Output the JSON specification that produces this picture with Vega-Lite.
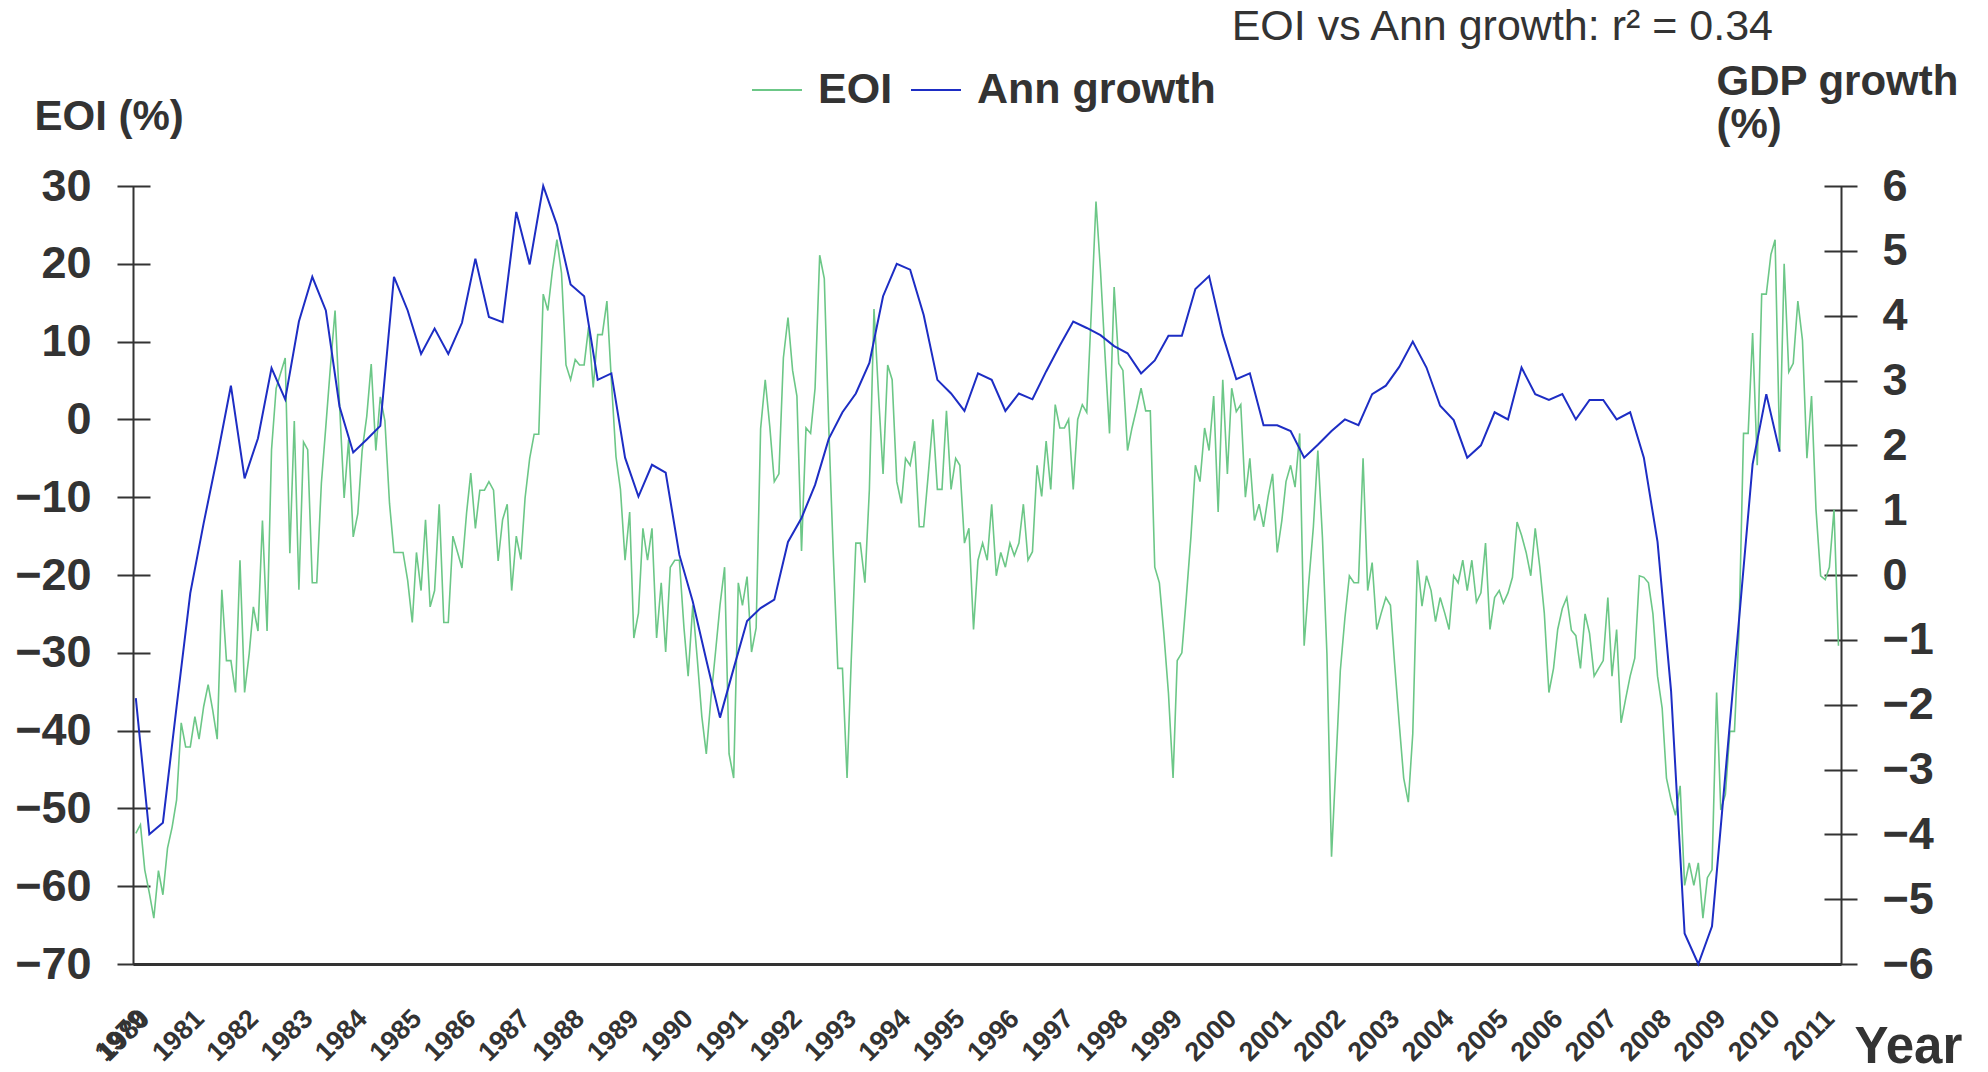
{
  "$schema": "https://vega.github.io/schema/vega-lite/v6.json",
  "width": 1708,
  "height": 778,
  "autosize": {"type": "none"},
  "padding": {"left": 133, "top": 186, "right": 147, "bottom": 108},
  "background": "white",
  "title": {"text": "EOI vs Ann growth: r² = 0.34", "anchor": "end", "frame": "group", "dx": -68, "offset": -23, "fontSize": 43, "font": "Liberation Sans", "fontWeight": "normal", "color": "#333333", "baseline": "alphabetic"},
  "config": {"view": {"stroke": null}, "font": "Liberation Sans"},
  "datasets": {
    "eoi": [
      {"date":"1980-01","eoi":-53.2},{"date":"1980-02","eoi":-52.1},{"date":"1980-03","eoi":-57.9},{"date":"1980-04","eoi":-60.9},{"date":"1980-05","eoi":-64.1},{"date":"1980-06","eoi":-58.0},{"date":"1980-07","eoi":-61.1},{"date":"1980-08","eoi":-55.1},{"date":"1980-09","eoi":-52.4},{"date":"1980-10","eoi":-48.9},{"date":"1980-11","eoi":-39.0},{"date":"1980-12","eoi":-42.1},
      {"date":"1981-01","eoi":-42.1},{"date":"1981-02","eoi":-38.2},{"date":"1981-03","eoi":-41.1},{"date":"1981-04","eoi":-36.9},{"date":"1981-05","eoi":-34.1},{"date":"1981-06","eoi":-37.4},{"date":"1981-07","eoi":-41.1},{"date":"1981-08","eoi":-21.9},{"date":"1981-09","eoi":-31.0},{"date":"1981-10","eoi":-31.0},{"date":"1981-11","eoi":-35.1},{"date":"1981-12","eoi":-18.1},
      {"date":"1982-01","eoi":-35.1},{"date":"1982-02","eoi":-30.1},{"date":"1982-03","eoi":-24.1},{"date":"1982-04","eoi":-27.2},{"date":"1982-05","eoi":-13.0},{"date":"1982-06","eoi":-27.2},{"date":"1982-07","eoi":-3.9},{"date":"1982-08","eoi":4.0},{"date":"1982-09","eoi":6.0},{"date":"1982-10","eoi":7.9},{"date":"1982-11","eoi":-17.2},{"date":"1982-12","eoi":-0.2},
      {"date":"1983-01","eoi":-21.9},{"date":"1983-02","eoi":-2.9},{"date":"1983-03","eoi":-3.9},{"date":"1983-04","eoi":-21.0},{"date":"1983-05","eoi":-21.0},{"date":"1983-06","eoi":-8.2},{"date":"1983-07","eoi":-0.9},{"date":"1983-08","eoi":6.8},{"date":"1983-09","eoi":14.0},{"date":"1983-10","eoi":2.0},{"date":"1983-11","eoi":-10.1},{"date":"1983-12","eoi":-2.6},
      {"date":"1984-01","eoi":-15.1},{"date":"1984-02","eoi":-12.1},{"date":"1984-03","eoi":-4.0},{"date":"1984-04","eoi":0.4},{"date":"1984-05","eoi":7.1},{"date":"1984-06","eoi":-4.0},{"date":"1984-07","eoi":2.9},{"date":"1984-08","eoi":-0.2},{"date":"1984-09","eoi":-10.8},{"date":"1984-10","eoi":-17.1},{"date":"1984-11","eoi":-17.1},{"date":"1984-12","eoi":-17.1},
      {"date":"1985-01","eoi":-20.7},{"date":"1985-02","eoi":-26.1},{"date":"1985-03","eoi":-17.1},{"date":"1985-04","eoi":-22.0},{"date":"1985-05","eoi":-12.9},{"date":"1985-06","eoi":-24.1},{"date":"1985-07","eoi":-22.0},{"date":"1985-08","eoi":-10.9},{"date":"1985-09","eoi":-26.1},{"date":"1985-10","eoi":-26.1},{"date":"1985-11","eoi":-15.0},{"date":"1985-12","eoi":-17.0},
      {"date":"1986-01","eoi":-19.1},{"date":"1986-02","eoi":-12.0},{"date":"1986-03","eoi":-6.9},{"date":"1986-04","eoi":-14.0},{"date":"1986-05","eoi":-9.1},{"date":"1986-06","eoi":-9.1},{"date":"1986-07","eoi":-8.0},{"date":"1986-08","eoi":-9.1},{"date":"1986-09","eoi":-18.2},{"date":"1986-10","eoi":-12.9},{"date":"1986-11","eoi":-10.9},{"date":"1986-12","eoi":-22.0},
      {"date":"1987-01","eoi":-15.0},{"date":"1987-02","eoi":-18.0},{"date":"1987-03","eoi":-10.1},{"date":"1987-04","eoi":-5.0},{"date":"1987-05","eoi":-1.9},{"date":"1987-06","eoi":-1.9},{"date":"1987-07","eoi":16.1},{"date":"1987-08","eoi":14.0},{"date":"1987-09","eoi":19.2},{"date":"1987-10","eoi":23.1},{"date":"1987-11","eoi":18.8},{"date":"1987-12","eoi":7.0},
      {"date":"1988-01","eoi":5.1},{"date":"1988-02","eoi":7.7},{"date":"1988-03","eoi":7.0},{"date":"1988-04","eoi":7.0},{"date":"1988-05","eoi":11.9},{"date":"1988-06","eoi":4.1},{"date":"1988-07","eoi":10.9},{"date":"1988-08","eoi":10.9},{"date":"1988-09","eoi":15.2},{"date":"1988-10","eoi":5.0},{"date":"1988-11","eoi":-4.8},{"date":"1988-12","eoi":-9.0},
      {"date":"1989-01","eoi":-18.1},{"date":"1989-02","eoi":-11.9},{"date":"1989-03","eoi":-28.1},{"date":"1989-04","eoi":-24.9},{"date":"1989-05","eoi":-14.0},{"date":"1989-06","eoi":-18.1},{"date":"1989-07","eoi":-14.0},{"date":"1989-08","eoi":-28.1},{"date":"1989-09","eoi":-21.0},{"date":"1989-10","eoi":-29.9},{"date":"1989-11","eoi":-19.0},{"date":"1989-12","eoi":-18.1},
      {"date":"1990-01","eoi":-18.1},{"date":"1990-02","eoi":-26.8},{"date":"1990-03","eoi":-33.0},{"date":"1990-04","eoi":-23.9},{"date":"1990-05","eoi":-30.7},{"date":"1990-06","eoi":-38.2},{"date":"1990-07","eoi":-43.0},{"date":"1990-08","eoi":-35.9},{"date":"1990-09","eoi":-29.9},{"date":"1990-10","eoi":-23.9},{"date":"1990-11","eoi":-19.0},{"date":"1990-12","eoi":-43.0},
      {"date":"1991-01","eoi":-46.1},{"date":"1991-02","eoi":-21.0},{"date":"1991-03","eoi":-23.9},{"date":"1991-04","eoi":-20.2},{"date":"1991-05","eoi":-29.9},{"date":"1991-06","eoi":-26.8},{"date":"1991-07","eoi":-1.2},{"date":"1991-08","eoi":5.1},{"date":"1991-09","eoi":-1.0},{"date":"1991-10","eoi":-8.0},{"date":"1991-11","eoi":-7.0},{"date":"1991-12","eoi":7.9},
      {"date":"1992-01","eoi":13.1},{"date":"1992-02","eoi":6.3},{"date":"1992-03","eoi":3.0},{"date":"1992-04","eoi":-16.9},{"date":"1992-05","eoi":-1.1},{"date":"1992-06","eoi":-1.8},{"date":"1992-07","eoi":4.0},{"date":"1992-08","eoi":21.1},{"date":"1992-09","eoi":18.1},{"date":"1992-10","eoi":-1.0},{"date":"1992-11","eoi":-17.7},{"date":"1992-12","eoi":-32.0},
      {"date":"1993-01","eoi":-32.0},{"date":"1993-02","eoi":-46.1},{"date":"1993-03","eoi":-31.0},{"date":"1993-04","eoi":-15.9},{"date":"1993-05","eoi":-15.9},{"date":"1993-06","eoi":-21.0},{"date":"1993-07","eoi":-9.0},{"date":"1993-08","eoi":14.2},{"date":"1993-09","eoi":3.0},{"date":"1993-10","eoi":-7.0},{"date":"1993-11","eoi":7.0},{"date":"1993-12","eoi":5.1},
      {"date":"1994-01","eoi":-8.0},{"date":"1994-02","eoi":-10.8},{"date":"1994-03","eoi":-5.0},{"date":"1994-04","eoi":-5.9},{"date":"1994-05","eoi":-2.8},{"date":"1994-06","eoi":-13.8},{"date":"1994-07","eoi":-13.8},{"date":"1994-08","eoi":-7.0},{"date":"1994-09","eoi":0.0},{"date":"1994-10","eoi":-9.0},{"date":"1994-11","eoi":-9.0},{"date":"1994-12","eoi":1.1},
      {"date":"1995-01","eoi":-9.0},{"date":"1995-02","eoi":-5.0},{"date":"1995-03","eoi":-5.9},{"date":"1995-04","eoi":-15.9},{"date":"1995-05","eoi":-14.0},{"date":"1995-06","eoi":-27.0},{"date":"1995-07","eoi":-18.1},{"date":"1995-08","eoi":-15.9},{"date":"1995-09","eoi":-18.1},{"date":"1995-10","eoi":-10.9},{"date":"1995-11","eoi":-20.1},{"date":"1995-12","eoi":-17.1},
      {"date":"1996-01","eoi":-19.0},{"date":"1996-02","eoi":-15.9},{"date":"1996-03","eoi":-17.5},{"date":"1996-04","eoi":-15.9},{"date":"1996-05","eoi":-10.9},{"date":"1996-06","eoi":-18.1},{"date":"1996-07","eoi":-17.0},{"date":"1996-08","eoi":-5.9},{"date":"1996-09","eoi":-9.9},{"date":"1996-10","eoi":-2.8},{"date":"1996-11","eoi":-9.0},{"date":"1996-12","eoi":1.9},
      {"date":"1997-01","eoi":-1.1},{"date":"1997-02","eoi":-1.1},{"date":"1997-03","eoi":0.0},{"date":"1997-04","eoi":-9.0},{"date":"1997-05","eoi":0.0},{"date":"1997-06","eoi":1.9},{"date":"1997-07","eoi":0.9},{"date":"1997-08","eoi":14.0},{"date":"1997-09","eoi":28.0},{"date":"1997-10","eoi":19.2},{"date":"1997-11","eoi":8.2},{"date":"1997-12","eoi":-1.8},
      {"date":"1998-01","eoi":17.0},{"date":"1998-02","eoi":7.2},{"date":"1998-03","eoi":6.3},{"date":"1998-04","eoi":-4.0},{"date":"1998-05","eoi":-1.1},{"date":"1998-06","eoi":1.4},{"date":"1998-07","eoi":4.0},{"date":"1998-08","eoi":1.1},{"date":"1998-09","eoi":1.1},{"date":"1998-10","eoi":-19.0},{"date":"1998-11","eoi":-21.0},{"date":"1998-12","eoi":-27.5},
      {"date":"1999-01","eoi":-35.2},{"date":"1999-02","eoi":-46.1},{"date":"1999-03","eoi":-31.0},{"date":"1999-04","eoi":-30.0},{"date":"1999-05","eoi":-22.9},{"date":"1999-06","eoi":-15.1},{"date":"1999-07","eoi":-5.9},{"date":"1999-08","eoi":-8.0},{"date":"1999-09","eoi":-1.1},{"date":"1999-10","eoi":-4.0},{"date":"1999-11","eoi":3.0},{"date":"1999-12","eoi":-11.9},
      {"date":"2000-01","eoi":5.1},{"date":"2000-02","eoi":-7.0},{"date":"2000-03","eoi":4.0},{"date":"2000-04","eoi":1.0},{"date":"2000-05","eoi":1.9},{"date":"2000-06","eoi":-10.0},{"date":"2000-07","eoi":-5.0},{"date":"2000-08","eoi":-13.0},{"date":"2000-09","eoi":-10.9},{"date":"2000-10","eoi":-13.8},{"date":"2000-11","eoi":-9.9},{"date":"2000-12","eoi":-7.0},
      {"date":"2001-01","eoi":-17.1},{"date":"2001-02","eoi":-13.0},{"date":"2001-03","eoi":-8.0},{"date":"2001-04","eoi":-5.9},{"date":"2001-05","eoi":-8.7},{"date":"2001-06","eoi":-1.8},{"date":"2001-07","eoi":-29.1},{"date":"2001-08","eoi":-21.0},{"date":"2001-09","eoi":-13.8},{"date":"2001-10","eoi":-4.0},{"date":"2001-11","eoi":-15.2},{"date":"2001-12","eoi":-30.1},
      {"date":"2002-01","eoi":-56.2},{"date":"2002-02","eoi":-43.7},{"date":"2002-03","eoi":-32.3},{"date":"2002-04","eoi":-25.5},{"date":"2002-05","eoi":-20.1},{"date":"2002-06","eoi":-21.0},{"date":"2002-07","eoi":-21.0},{"date":"2002-08","eoi":-5.0},{"date":"2002-09","eoi":-22.0},{"date":"2002-10","eoi":-18.4},{"date":"2002-11","eoi":-27.0},{"date":"2002-12","eoi":-24.9},
      {"date":"2003-01","eoi":-22.9},{"date":"2003-02","eoi":-23.9},{"date":"2003-03","eoi":-31.4},{"date":"2003-04","eoi":-39.1},{"date":"2003-05","eoi":-46.1},{"date":"2003-06","eoi":-49.2},{"date":"2003-07","eoi":-40.4},{"date":"2003-08","eoi":-18.1},{"date":"2003-09","eoi":-24.0},{"date":"2003-10","eoi":-20.1},{"date":"2003-11","eoi":-22.0},{"date":"2003-12","eoi":-26.0},
      {"date":"2004-01","eoi":-22.9},{"date":"2004-02","eoi":-24.9},{"date":"2004-03","eoi":-27.0},{"date":"2004-04","eoi":-20.1},{"date":"2004-05","eoi":-21.0},{"date":"2004-06","eoi":-18.1},{"date":"2004-07","eoi":-22.0},{"date":"2004-08","eoi":-18.1},{"date":"2004-09","eoi":-23.5},{"date":"2004-10","eoi":-22.3},{"date":"2004-11","eoi":-15.9},{"date":"2004-12","eoi":-27.0},
      {"date":"2005-01","eoi":-22.9},{"date":"2005-02","eoi":-22.0},{"date":"2005-03","eoi":-23.6},{"date":"2005-04","eoi":-22.3},{"date":"2005-05","eoi":-20.3},{"date":"2005-06","eoi":-13.2},{"date":"2005-07","eoi":-14.9},{"date":"2005-08","eoi":-17.1},{"date":"2005-09","eoi":-20.1},{"date":"2005-10","eoi":-14.0},{"date":"2005-11","eoi":-19.0},{"date":"2005-12","eoi":-24.9},
      {"date":"2006-01","eoi":-35.1},{"date":"2006-02","eoi":-32.0},{"date":"2006-03","eoi":-27.0},{"date":"2006-04","eoi":-24.3},{"date":"2006-05","eoi":-22.9},{"date":"2006-06","eoi":-27.1},{"date":"2006-07","eoi":-27.8},{"date":"2006-08","eoi":-32.0},{"date":"2006-09","eoi":-25.0},{"date":"2006-10","eoi":-27.5},{"date":"2006-11","eoi":-33.0},{"date":"2006-12","eoi":-32.0},
      {"date":"2007-01","eoi":-31.0},{"date":"2007-02","eoi":-22.9},{"date":"2007-03","eoi":-33.0},{"date":"2007-04","eoi":-27.0},{"date":"2007-05","eoi":-39.0},{"date":"2007-06","eoi":-35.9},{"date":"2007-07","eoi":-33.0},{"date":"2007-08","eoi":-30.7},{"date":"2007-09","eoi":-20.1},{"date":"2007-10","eoi":-20.3},{"date":"2007-11","eoi":-21.0},{"date":"2007-12","eoi":-25.0},
      {"date":"2008-01","eoi":-33.0},{"date":"2008-02","eoi":-37.1},{"date":"2008-03","eoi":-46.1},{"date":"2008-04","eoi":-48.9},{"date":"2008-05","eoi":-50.9},{"date":"2008-06","eoi":-47.1},{"date":"2008-07","eoi":-59.9},{"date":"2008-08","eoi":-57.0},{"date":"2008-09","eoi":-59.9},{"date":"2008-10","eoi":-57.0},{"date":"2008-11","eoi":-64.1},{"date":"2008-12","eoi":-58.9},
      {"date":"2009-01","eoi":-57.9},{"date":"2009-02","eoi":-35.1},{"date":"2009-03","eoi":-50.2},{"date":"2009-04","eoi":-48.2},{"date":"2009-05","eoi":-40.1},{"date":"2009-06","eoi":-40.1},{"date":"2009-07","eoi":-27.5},{"date":"2009-08","eoi":-1.8},{"date":"2009-09","eoi":-1.8},{"date":"2009-10","eoi":11.1},{"date":"2009-11","eoi":-5.9},{"date":"2009-12","eoi":16.1},
      {"date":"2010-01","eoi":16.1},{"date":"2010-02","eoi":21.2},{"date":"2010-03","eoi":23.1},{"date":"2010-04","eoi":-4.1},{"date":"2010-05","eoi":20.0},{"date":"2010-06","eoi":6.1},{"date":"2010-07","eoi":7.2},{"date":"2010-08","eoi":15.2},{"date":"2010-09","eoi":10.2},{"date":"2010-10","eoi":-5.0},{"date":"2010-11","eoi":3.0},{"date":"2010-12","eoi":-11.6},
      {"date":"2011-01","eoi":-20.1},{"date":"2011-02","eoi":-20.6},{"date":"2011-03","eoi":-19.0},{"date":"2011-04","eoi":-11.6},{"date":"2011-05","eoi":-29.1}
    ],
    "gdp": [
      {"date":"1980-01","growth":-1.90},{"date":"1980-04","growth":-4.00},{"date":"1980-07","growth":-3.82},{"date":"1980-10","growth":-2.03},
      {"date":"1981-01","growth":-0.28},{"date":"1981-04","growth":0.80},{"date":"1981-07","growth":1.82},{"date":"1981-10","growth":2.92},
      {"date":"1982-01","growth":1.49},{"date":"1982-04","growth":2.11},{"date":"1982-07","growth":3.19},{"date":"1982-10","growth":2.71},
      {"date":"1983-01","growth":3.91},{"date":"1983-04","growth":4.60},{"date":"1983-07","growth":4.08},{"date":"1983-10","growth":2.60},
      {"date":"1984-01","growth":1.89},{"date":"1984-04","growth":2.09},{"date":"1984-07","growth":2.30},{"date":"1984-10","growth":4.60},
      {"date":"1985-01","growth":4.08},{"date":"1985-04","growth":3.41},{"date":"1985-07","growth":3.80},{"date":"1985-10","growth":3.41},
      {"date":"1986-01","growth":3.89},{"date":"1986-04","growth":4.88},{"date":"1986-07","growth":3.98},{"date":"1986-10","growth":3.90},
      {"date":"1987-01","growth":5.60},{"date":"1987-04","growth":4.79},{"date":"1987-07","growth":6.00},{"date":"1987-10","growth":5.40},
      {"date":"1988-01","growth":4.48},{"date":"1988-04","growth":4.30},{"date":"1988-07","growth":3.01},{"date":"1988-10","growth":3.11},
      {"date":"1989-01","growth":1.81},{"date":"1989-04","growth":1.21},{"date":"1989-07","growth":1.70},{"date":"1989-10","growth":1.58},
      {"date":"1990-01","growth":0.31},{"date":"1990-04","growth":-0.41},{"date":"1990-07","growth":-1.31},{"date":"1990-10","growth":-2.20},
      {"date":"1991-01","growth":-1.44},{"date":"1991-04","growth":-0.71},{"date":"1991-07","growth":-0.51},{"date":"1991-10","growth":-0.38},
      {"date":"1992-01","growth":0.51},{"date":"1992-04","growth":0.88},{"date":"1992-07","growth":1.39},{"date":"1992-10","growth":2.10},
      {"date":"1993-01","growth":2.51},{"date":"1993-04","growth":2.80},{"date":"1993-07","growth":3.27},{"date":"1993-10","growth":4.30},
      {"date":"1994-01","growth":4.80},{"date":"1994-04","growth":4.71},{"date":"1994-07","growth":4.01},{"date":"1994-10","growth":3.01},
      {"date":"1995-01","growth":2.80},{"date":"1995-04","growth":2.53},{"date":"1995-07","growth":3.11},{"date":"1995-10","growth":3.01},
      {"date":"1996-01","growth":2.53},{"date":"1996-04","growth":2.80},{"date":"1996-07","growth":2.71},{"date":"1996-10","growth":3.14},
      {"date":"1997-01","growth":3.54},{"date":"1997-04","growth":3.91},{"date":"1997-07","growth":3.81},{"date":"1997-10","growth":3.70},
      {"date":"1998-01","growth":3.53},{"date":"1998-04","growth":3.42},{"date":"1998-07","growth":3.11},{"date":"1998-10","growth":3.31},
      {"date":"1999-01","growth":3.69},{"date":"1999-04","growth":3.69},{"date":"1999-07","growth":4.41},{"date":"1999-10","growth":4.61},
      {"date":"2000-01","growth":3.70},{"date":"2000-04","growth":3.02},{"date":"2000-07","growth":3.11},{"date":"2000-10","growth":2.31},
      {"date":"2001-01","growth":2.31},{"date":"2001-04","growth":2.22},{"date":"2001-07","growth":1.81},{"date":"2001-10","growth":2.01},
      {"date":"2002-01","growth":2.22},{"date":"2002-04","growth":2.40},{"date":"2002-07","growth":2.31},{"date":"2002-10","growth":2.79},
      {"date":"2003-01","growth":2.92},{"date":"2003-04","growth":3.21},{"date":"2003-07","growth":3.60},{"date":"2003-10","growth":3.20},
      {"date":"2004-01","growth":2.61},{"date":"2004-04","growth":2.39},{"date":"2004-07","growth":1.81},{"date":"2004-10","growth":2.00},
      {"date":"2005-01","growth":2.51},{"date":"2005-04","growth":2.40},{"date":"2005-07","growth":3.20},{"date":"2005-10","growth":2.79},
      {"date":"2006-01","growth":2.70},{"date":"2006-04","growth":2.79},{"date":"2006-07","growth":2.40},{"date":"2006-10","growth":2.70},
      {"date":"2007-01","growth":2.70},{"date":"2007-04","growth":2.40},{"date":"2007-07","growth":2.51},{"date":"2007-10","growth":1.81},
      {"date":"2008-01","growth":0.51},{"date":"2008-04","growth":-1.79},{"date":"2008-07","growth":-5.53},{"date":"2008-10","growth":-6.00},
      {"date":"2009-01","growth":-5.42},{"date":"2009-04","growth":-3.07},{"date":"2009-07","growth":-0.71},{"date":"2009-10","growth":1.71},
      {"date":"2010-01","growth":2.79},{"date":"2010-04","growth":1.90}
    ]
  },
  "layer": [
    {
      "data": {"name": "eoi"},
      "mark": {"type": "line", "strokeWidth": 1.6},
      "encoding": {
        "x": {
          "field": "date", "type": "temporal",
          "scale": {"type": "utc", "domain": [{"year": 1979, "month": 12, "date": 13, "utc": true}, {"year": 2011, "month": 5, "date": 18, "utc": true}]},
          "axis": {
            "orient": "bottom",
            "values": [
              {"year": 1980, "utc": true},{"year": 1981, "utc": true},{"year": 1982, "utc": true},{"year": 1983, "utc": true},{"year": 1984, "utc": true},{"year": 1985, "utc": true},{"year": 1986, "utc": true},{"year": 1987, "utc": true},{"year": 1988, "utc": true},{"year": 1989, "utc": true},
              {"year": 1990, "utc": true},{"year": 1991, "utc": true},{"year": 1992, "utc": true},{"year": 1993, "utc": true},{"year": 1994, "utc": true},{"year": 1995, "utc": true},{"year": 1996, "utc": true},{"year": 1997, "utc": true},{"year": 1998, "utc": true},{"year": 1999, "utc": true},
              {"year": 2000, "utc": true},{"year": 2001, "utc": true},{"year": 2002, "utc": true},{"year": 2003, "utc": true},{"year": 2004, "utc": true},{"year": 2005, "utc": true},{"year": 2006, "utc": true},{"year": 2007, "utc": true},{"year": 2008, "utc": true},{"year": 2009, "utc": true},
              {"year": 2010, "utc": true},{"year": 2011, "utc": true}
            ],
            "format": "%Y",
            "labelAngle": -45,
            "labelFontSize": 27,
            "labelFontWeight": "bold",
            "labelColor": "#333333",
            "labelPadding": 41,
            "labelDx": -11,
            "labelDy": -11,
            "labelOverlap": false,
            "labelFlush": false,
            "labelBound": false,
            "ticks": false,
            "tickSize": 0,
            "grid": false,
            "domain": true,
            "domainColor": "#333333",
            "domainWidth": 3,
            "title": "Year",
            "titleFontSize": 51,
            "titleFontWeight": "bold",
            "titleColor": "#333333",
            "titleAlign": "left",
            "titleBaseline": "alphabetic",
            "titleX": 1721,
            "titleY": 98
          }
        },
        "y": {
          "field": "eoi", "type": "quantitative",
          "scale": {"domain": [-70, 30], "nice": false, "zero": false},
          "axis": {
            "orient": "left",
            "offset": -17,
            "values": [-70, -60, -50, -40, -30, -20, -10, 0, 10, 20, 30],
            "format": "d",
            "tickSize": 33,
            "tickWidth": 2,
            "tickColor": "#333333",
            "domain": false,
            "grid": false,
            "labelFontSize": 45,
            "labelFontWeight": "bold",
            "labelColor": "#333333",
            "labelPadding": 26,
            "labelOverlap": false,
            "labelFlush": false,
            "labelBound": false,
            "title": "EOI (%)",
            "titleAngle": 0,
            "titleFontSize": 42,
            "titleFontWeight": "bold",
            "titleColor": "#333333",
            "titleAlign": "left",
            "titleBaseline": "alphabetic",
            "titleX": -116,
            "titleY": -57
          }
        },
        "color": {
          "datum": "EOI", "type": "nominal",
          "scale": {"domain": ["EOI", "Ann growth"], "range": ["#6cc787", "#1d2dc4"]},
          "legend": {
            "orient": "none",
            "legendX": 618,
            "legendY": -122,
            "direction": "horizontal",
            "title": null,
            "symbolType": "stroke",
            "symbolSize": 2500,
            "symbolStrokeWidth": 2,
            "labelFontSize": 43,
            "labelFont": "Liberation Sans",
            "labelFontWeight": "bold",
            "labelColor": "#333333",
            "labelLimit": 0,
            "labelOffset": 15,
            "columnPadding": 14,
            "padding": 0
          }
        }
      }
    },
    {
      "data": {"name": "gdp"},
      "mark": {"type": "line", "strokeWidth": 2},
      "encoding": {
        "x": {
          "field": "date", "type": "temporal",
          "scale": {"type": "utc", "domain": [{"year": 1979, "month": 12, "date": 13, "utc": true}, {"year": 2011, "month": 5, "date": 18, "utc": true}]},
          "axis": {
            "orient": "bottom",
            "values": [{"year": 1979, "month": 12, "date": 13, "utc": true}, {"year": 2011, "month": 5, "date": 18, "utc": true}],
            "labelExpr": "utcyear(datum.value) < 1980 ? '1979' : ''",
            "labelAngle": -45,
            "labelFontSize": 27,
            "labelFontWeight": "bold",
            "labelColor": "#333333",
            "labelPadding": 41,
            "labelDx": -25,
            "labelDy": -20,
            "labelOverlap": false,
            "labelFlush": false,
            "labelBound": false,
            "grid": true,
            "gridColor": "#333333",
            "gridWidth": 2,
            "gridOpacity": 1,
            "ticks": false,
            "tickSize": 0,
            "domain": false,
            "title": null
          }
        },
        "y": {
          "field": "growth", "type": "quantitative",
          "scale": {"domain": [-6, 6], "nice": false, "zero": false},
          "axis": {
            "orient": "right",
            "offset": -17,
            "values": [-6, -5, -4, -3, -2, -1, 0, 1, 2, 3, 4, 5, 6],
            "format": "d",
            "tickSize": 33,
            "tickWidth": 2,
            "tickColor": "#333333",
            "domain": false,
            "grid": false,
            "labelFontSize": 45,
            "labelFontWeight": "bold",
            "labelColor": "#333333",
            "labelPadding": 25,
            "labelOverlap": false,
            "labelFlush": false,
            "labelBound": false,
            "title": ["GDP growth", "(%)"],
            "titleAngle": 0,
            "titleFontSize": 42,
            "titleFontWeight": "bold",
            "titleColor": "#333333",
            "titleAlign": "left",
            "titleBaseline": "alphabetic",
            "titleLineHeight": 43,
            "titleX": -108,
            "titleY": -92
          }
        },
        "color": {"datum": "Ann growth", "type": "nominal"}
      }
    }
  ],
  "resolve": {"scale": {"y": "independent"}, "axis": {"x": "independent"}}
}
